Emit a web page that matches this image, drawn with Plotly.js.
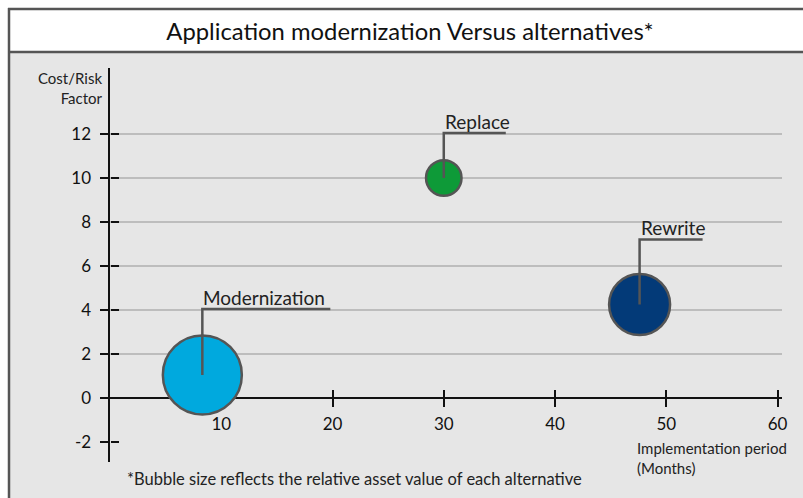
<!DOCTYPE html>
<html>
<head>
<meta charset="utf-8">
<script src="https://cdn.plot.ly/plotly-3.0.1.min.js"></script>
<style>
  html, body { margin: 0; padding: 0; background: #ffffff; }
  #chart { width: 803px; height: 498px; }
</style>
</head>
<body>
<div id="chart"></div>
<script>
// ---- data ----
const alternatives = ['Modernization', 'Replace', 'Rewrite'];
const implementationMonths = [8.3, 30, 47.6];
const costRiskFactor = [1.05, 10, 4.25];
const relativeAssetValue = [79, 35.5, 61];

const xTickValues = [10, 20, 30, 40, 50, 60];
const xTickLabels = ['10', '20', '30', '40', '50', '60'];
const yTickValues = [-2, 0, 2, 4, 6, 8, 10, 12];
const yTickLabels = ['-2', '0', '2', '4', '6', '8', '10', '12'];
const yGridValues = [2, 4, 6, 8, 10, 12];

const chartTitle = 'Application modernization Versus alternatives*';
const yTitle = 'Cost/Risk<br>Factor';
const xTitle = 'Implementation period<br>(Months)';
const footnote = '*Bubble size reflects the relative asset value of each alternative';

// ---- styles ----
const bubbleColors = ['#00a9de', '#0e9a38', '#033a78'];
const leaderHeights = [66, 45, 65];
const leaderWidths = [128, 62, 63];

const FONT = 'Lato, "Open Sans", sans-serif';
const W = 803, H = 498;
const M = { l: 110, r: 21, t: 68, b: 36 };
const PW = W - M.l - M.r, PH = H - M.t - M.b;
const xRange = [0, 60.4];
const yRange = [-2.91, 15];
const xAxisPos = (0 - yRange[0]) / (yRange[1] - yRange[0]);

const px = v => (v - M.l) / PW;          // pixel x -> paper
const py = v => (H - M.b - v) / PH;      // pixel y -> paper

const traces = [
  {
    type: 'scatter', mode: 'markers',
    x: implementationMonths, y: costRiskFactor,
    text: alternatives,
    marker: {
      size: relativeAssetValue, sizemode: 'diameter', sizeref: 1,
      color: bubbleColors, opacity: 1,
      line: { color: '#555555', width: 2.5 }
    },
    hoverinfo: 'text+x+y', showlegend: false, cliponaxis: false
  },
  { type: 'scatter', mode: 'markers', x: [null], y: [null], xaxis: 'x2', yaxis: 'y2', showlegend: false, hoverinfo: 'skip' },
  { type: 'scatter', mode: 'markers', x: [null], y: [null], xaxis: 'x', yaxis: 'y3', showlegend: false, hoverinfo: 'skip' }
];

const axisCommon = {
  showgrid: false, zeroline: false, layer: 'below traces', fixedrange: true,
  tickcolor: '#111111', tickwidth: 2, ticklen: 8,
  tickfont: { family: FONT, size: 17, color: '#111111' }
};

const shapes = [
  // gray chart body
  { type: 'rect', xref: 'paper', yref: 'paper', x0: px(9), x1: px(900), y0: py(52), y1: py(600),
    fillcolor: '#e6e6e6', line: { width: 0 }, layer: 'below' },
  // white title band
  { type: 'rect', xref: 'paper', yref: 'paper', x0: px(9), x1: px(900), y0: py(9), y1: py(52),
    fillcolor: '#ffffff', line: { width: 0 }, layer: 'below' },
  // frame lines
  { type: 'line', xref: 'paper', yref: 'paper', x0: px(9), x1: px(9), y0: py(8), y1: py(600),
    line: { color: '#555555', width: 2.5 }, layer: 'below' },
  { type: 'line', xref: 'paper', yref: 'paper', x0: px(8), x1: px(900), y0: py(9), y1: py(9),
    line: { color: '#555555', width: 2.5 }, layer: 'below' },
  { type: 'line', xref: 'paper', yref: 'paper', x0: px(9), x1: px(900), y0: py(52), y1: py(52),
    line: { color: '#555555', width: 2.5 }, layer: 'below' }
];

const annotations = [];
alternatives.forEach((name, i) => {
  shapes.push({
    type: 'path', xref: 'x', yref: 'y',
    xsizemode: 'pixel', ysizemode: 'pixel',
    xanchor: implementationMonths[i], yanchor: costRiskFactor[i],
    path: 'M0,0 L0,' + leaderHeights[i] + ' L' + leaderWidths[i] + ',' + leaderHeights[i],
    line: { color: '#555555', width: 2.5 }, layer: 'above'
  });
  annotations.push({
    xref: 'x', yref: 'y', x: implementationMonths[i], y: costRiskFactor[i],
    xanchor: 'left', yanchor: 'bottom', xshift: -1, yshift: leaderHeights[i] - 2,
    text: name, showarrow: false,
    font: { family: FONT, size: 19, color: '#222222' }
  });
});

annotations.push(
  { xref: 'paper', yref: 'paper', x: px(105), y: py(87.5), xanchor: 'right', yanchor: 'middle',
    align: 'right', text: yTitle, showarrow: false,
    font: { family: FONT, size: 15, color: '#222222' } },
  { xref: 'paper', yref: 'paper', x: px(635), y: py(457.5), xanchor: 'left', yanchor: 'middle',
    align: 'left', text: xTitle, showarrow: false,
    font: { family: FONT, size: 15, color: '#222222' } },
  { xref: 'paper', yref: 'paper', x: px(125), y: py(479), xanchor: 'left', yanchor: 'middle',
    align: 'left', text: footnote, showarrow: false,
    font: { family: FONT, size: 16.5, color: '#222222' } }
);

const layout = {
  width: W, height: H,
  margin: { l: M.l, r: M.r, t: M.t, b: M.b, autoexpand: false },
  paper_bgcolor: '#ffffff', plot_bgcolor: 'rgba(0,0,0,0)',
  showlegend: false,
  title: {
    text: chartTitle, xref: 'container', yref: 'container',
    x: 410 / W, y: 1 - 32 / H, xanchor: 'center', yanchor: 'middle',
    font: { family: FONT, size: 23.8, color: '#111111' }
  },
  xaxis: Object.assign({}, axisCommon, {
    range: xRange, anchor: 'free', position: xAxisPos,
    tickmode: 'array', tickvals: xTickValues, ticktext: xTickLabels,
    ticks: 'outside', showline: true, linecolor: '#111111', linewidth: 2.5,
    ticklabelstandoff: 2
  }),
  xaxis2: Object.assign({}, axisCommon, {
    range: xRange, overlaying: 'x', anchor: 'free', position: xAxisPos,
    tickmode: 'array', tickvals: xTickValues, ticks: 'inside',
    showticklabels: false, showline: false
  }),
  yaxis: Object.assign({}, axisCommon, {
    range: yRange, anchor: 'x',
    tickmode: 'array', tickvals: yTickValues, ticktext: yTickLabels,
    ticks: 'outside', showline: true, linecolor: '#111111', linewidth: 2.5,
    ticklabelstandoff: 5
  }),
  yaxis2: Object.assign({}, axisCommon, {
    range: yRange, overlaying: 'y', anchor: 'free', position: 0,
    tickmode: 'array', tickvals: yTickValues, ticks: 'inside',
    showticklabels: false, showline: false
  }),
  yaxis3: Object.assign({}, axisCommon, {
    range: yRange, overlaying: 'y', anchor: 'x',
    tickmode: 'array', tickvals: yGridValues, ticks: '',
    showticklabels: false, showline: false,
    showgrid: true, gridcolor: '#bdbdbd', gridwidth: 1.2
  }),
  shapes: shapes,
  annotations: annotations
};

Plotly.newPlot('chart', traces, layout, { displayModeBar: false, staticPlot: true });
</script>
</body>
</html>
